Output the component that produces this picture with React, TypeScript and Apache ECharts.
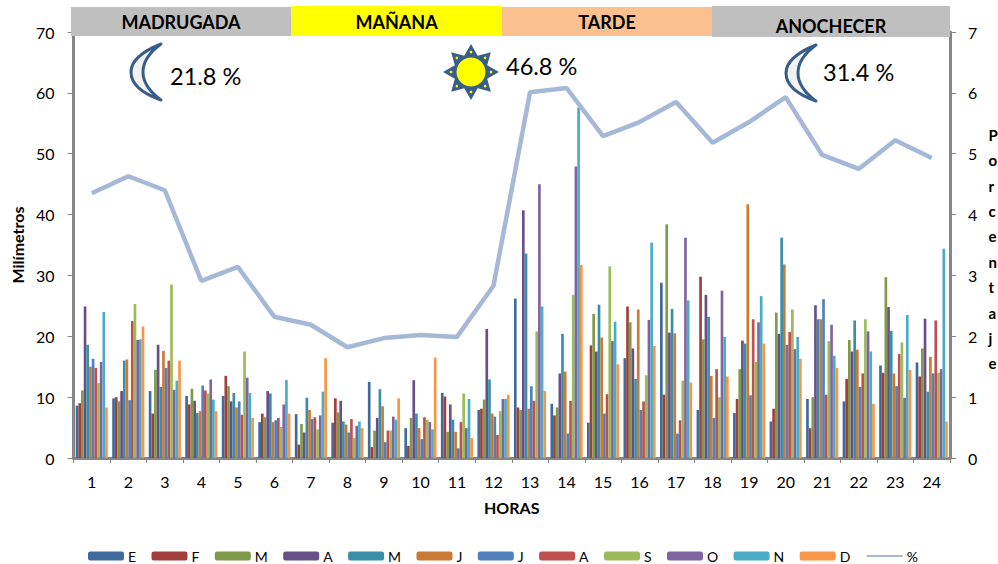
import React, { useEffect, useRef } from "react";
import * as echarts from "echarts";

const hours = ["1","2","3","4","5","6","7","8","9","10","11","12","13","14","15","16","17","18","19","20","21","22","23","24"];
const names = ["E","F","M","A","M2","J","J2","A2","S","O","N","D"];
const colors = ["#3e6a9c","#a03f3c","#7f9a48","#694f88","#3a8fa8","#cb7a36","#4f81bd","#c0504d","#9bbb59","#8064a2","#4bacc6","#f79646"];

const E  = [8.6,9.8,11,10.2,10.2,5.9,7.2,5.8,12.5,4.9,10.7,7.9,26.2,8.9,5.8,16.4,28.8,7.9,7.4,6,9.7,9.3,15.2,15.7];
const F  = [9,10,7.3,8.8,13.5,7.3,2.2,9.8,1.8,2,10.1,8.1,8.3,7,18.5,24.9,10.4,29.8,9.7,8.1,4.9,13,14,13.4];
const M1 = [11.1,9.3,14.5,11.4,11.8,6.7,5.6,7.5,4.5,6.6,4.3,9.6,7.9,8.3,23.7,22.3,38.4,19.5,14.6,23.9,10,19.4,29.7,18];
const A1 = [24.9,11,18.6,9.4,9.3,11,4.2,9.4,6.6,12.8,8.8,21.2,40.7,13.9,17.5,18,20.6,26.8,19.3,20.4,25.1,17.5,24.8,22.9];
const M2 = [18.6,16,11.7,7.4,10.7,10.6,9.9,6,11.3,7.3,6.3,12.9,33.6,20.4,25.2,13,24.5,23.2,18.8,36.2,22.8,22.6,20.9,10.9];
const J1 = [15,16.2,17.6,7.7,8.3,5.9,7.9,5.5,8.5,4.9,4.3,7.3,8.1,14.2,19.8,24.4,20.5,13.5,41.7,31.8,22.8,17.8,13.9,16.6];
const J2 = [16.3,9.5,14.8,11.9,9.3,6.2,6.4,4.2,2.6,3.1,1.6,6.8,11.8,4,7.3,7.9,4,6.6,10.3,18.6,26.1,11.7,11.8,13.9];
const A2 = [14.8,22.5,16,11.1,7.1,6.6,6.7,6.4,4.5,6.7,5.9,3.8,9.4,9.4,10.5,9.3,6.2,14.6,22.8,20.7,10.4,13.9,17.1,22.6];
const S  = [12.3,25.3,28.5,10.6,17.5,5.1,4.7,3.3,4.5,6.3,10.6,7.7,20.8,26.8,31.5,13.6,12.7,10,15.8,24.4,19.2,22.8,19,14];
const O  = [15.8,19.4,11.2,12.9,13.2,8.8,7,5.3,6.8,5.9,4.9,9.7,45,47.9,19.2,22.7,36.2,27.5,22.3,17.9,21.9,20.8,9.9,14.6];
const N  = [24,19.5,12.7,9.6,10.7,12.8,10.9,6,6.3,4.7,9.7,9.7,24.9,57.6,22.4,35.4,25.9,19.9,26.6,19.9,16.8,17.5,23.5,34.4];
const D  = [8.3,21.6,16,7.7,6.6,7.3,16.4,4.9,9.8,16.5,3.3,10.4,11,31.7,15.4,18.4,12.4,13.4,18.8,16.3,14.8,8.9,14.5,6];
const pct = [4.35,4.63,4.4,2.91,3.14,2.32,2.19,1.82,1.97,2.02,1.99,2.83,6.01,6.08,5.29,5.52,5.85,5.18,5.52,5.93,4.98,4.75,5.22,4.93];
const monthly = [E,F,M1,A1,M2,J1,J2,A2,S,O,N,D];

const bands = [
  { label: "MADRUGADA", x: 71, y: 7, w: 220, h: 29, color: "#bfbfbf", ty: 22 },
  { label: "MAÑANA", x: 291, y: 6, w: 211, h: 30, color: "#ffff00", ty: 22 },
  { label: "TARDE", x: 502, y: 7, w: 210, h: 29, color: "#fac090", ty: 22 },
  { label: "ANOCHECER", x: 712, y: 6, w: 238, h: 31, color: "#bfbfbf", ty: 26 },
];
const shares = [
  { text: "21.8 %", x: 170, y: 76 },
  { text: "46.8 %", x: 506, y: 66 },
  { text: "31.4 %", x: 823, y: 72 },
];

const FONT = "Lato";
const AXIS = "#868686";
const MOON = "M30,0 C10,8 0,17 0,28 C0,40 10,49 30,56 C19,48 12,39 12,28 C12,17 19,8 30,0 Z";

function sunElements(cx: number, cy: number) {
  const pts: number[][] = [];
  const dots: any[] = [];
  for (let i = 0; i < 16; i++) {
    const a = (i * Math.PI) / 8 - Math.PI / 2;
    const r = i % 2 === 0 ? 28 : 17.5;
    pts.push([cx + r * Math.cos(a), cy + r * Math.sin(a)]);
    if (i % 2 === 0) {
      dots.push({
        type: "circle", z: 21,
        shape: { cx: cx + 20 * Math.cos(a), cy: cy + 20 * Math.sin(a), r: 1.3 },
        style: { fill: "#ffff00" },
      });
    }
  }
  return [
    { type: "polygon", z: 20, shape: { points: pts }, style: { fill: "#385d8a" } },
    { type: "circle", z: 22, shape: { cx, cy, r: 14.5 }, style: { fill: "#ffff00" } },
    ...dots,
  ];
}

export default function App() {
  const ref = useRef<HTMLDivElement>(null);
  useEffect(() => {
    document.body.style.margin = "0";
    document.body.style.overflow = "hidden";
    echarts.graphic.registerShape("moon", echarts.graphic.extendPath(MOON, {}));
    const chart = echarts.init(ref.current!, undefined, { renderer: "svg" });
    const moon = (x: number, y: number) => ({
      type: "moon", x, y, scaleX: 1, scaleY: 1, z: 20,
      style: { fill: "#f2f2f2", stroke: "#385d8a", lineWidth: 3, lineJoin: "round" },
    });
    chart.setOption({
      animation: false,
      backgroundColor: "#ffffff",
      textStyle: { fontFamily: FONT },
      grid: { left: 73.5, right: 48, top: 32, bottom: 106, containLabel: false },
      legend: {
        left: 88, top: 549, itemWidth: 36, itemHeight: 9, itemGap: 15.4, padding: 0,
        textStyle: { fontFamily: FONT, fontSize: 14, color: "#000", padding: [0, 0, 0, -1] },
        formatter: (n: string) => n[0],
        data: [...names, { name: "%", itemStyle: { opacity: 0 } }],
      },
      xAxis: {
        type: "category", data: hours,
        name: "HORAS", nameLocation: "middle", nameGap: 41,
        nameTextStyle: { fontFamily: FONT, fontWeight: "bold", fontSize: 16, color: "#000" },
        axisLine: { lineStyle: { color: AXIS, width: 3 } },
        axisTick: { show: true, alignWithLabel: false, length: 5, lineStyle: { color: AXIS, width: 1 } },
        axisLabel: { fontFamily: FONT, fontSize: 16, color: "#000", margin: 15 },
        splitLine: { show: false },
      },
      yAxis: [
        {
          type: "value", min: 0, max: 70, interval: 10,
          name: "Milímetros", nameLocation: "middle", nameGap: 48,
          nameTextStyle: { fontFamily: FONT, fontWeight: "bold", fontSize: 16, color: "#000" },
          axisLine: { show: true, lineStyle: { color: AXIS, width: 3 } },
          axisTick: { show: true, length: 6, lineStyle: { color: AXIS, width: 1 } },
          axisLabel: { fontFamily: FONT, fontSize: 16, color: "#000", margin: 19 },
          splitLine: { show: false },
        },
        {
          type: "value", min: 0, max: 7, interval: 1, position: "right",
          axisLine: { show: true, lineStyle: { color: AXIS, width: 3 } },
          axisTick: { show: true, length: 6, lineStyle: { color: AXIS, width: 1 } },
          axisLabel: { fontFamily: FONT, fontSize: 16, color: "#000", margin: 18 },
          splitLine: { show: false },
        },
      ],
      series: [
        ...monthly.map((data, i) => ({
          name: names[i], type: "bar", data, barGap: "0%", barCategoryGap: "12%",
          itemStyle: { color: colors[i] }, yAxisIndex: 0,
        })),
        {
          name: "%", type: "line", yAxisIndex: 1, data: pct, symbol: "none", z: 5,
          lineStyle: { color: "#a5b8d8", width: 4.5 },
          itemStyle: { color: "#a5b8d8" },
        },
      ],
      graphic: [
        ...bands.flatMap((b) => [
          { type: "rect", z: 10, shape: { x: b.x, y: b.y, width: b.w, height: b.h }, style: { fill: b.color } },
          {
            type: "text", z: 11, x: b.x + b.w / 2, y: b.ty,
            style: { text: b.label, fontFamily: FONT, fontWeight: "bold", fontSize: 18, fill: "#000", align: "center", verticalAlign: "middle" },
          },
        ]),
        ...shares.map((s) => ({
          type: "text", z: 20, x: s.x, y: s.y,
          style: { text: s.text, fontFamily: FONT, fontSize: 23.5, fill: "#000", align: "left", verticalAlign: "middle" },
        })),
        moon(131, 44),
        moon(786, 45),
        ...sunElements(471, 72),
        {
          type: "text", z: 20, x: 988.5, y: 122,
          style: { text: "Porcentaje".split("").join("\n"), fontFamily: FONT, fontWeight: "bold", fontSize: 15, lineHeight: 25.4, fill: "#000", align: "left" },
        },
      ],
    });
    return () => chart.dispose();
  }, []);
  return <div ref={ref} style={{ width: 998, height: 564 }} />;
}
